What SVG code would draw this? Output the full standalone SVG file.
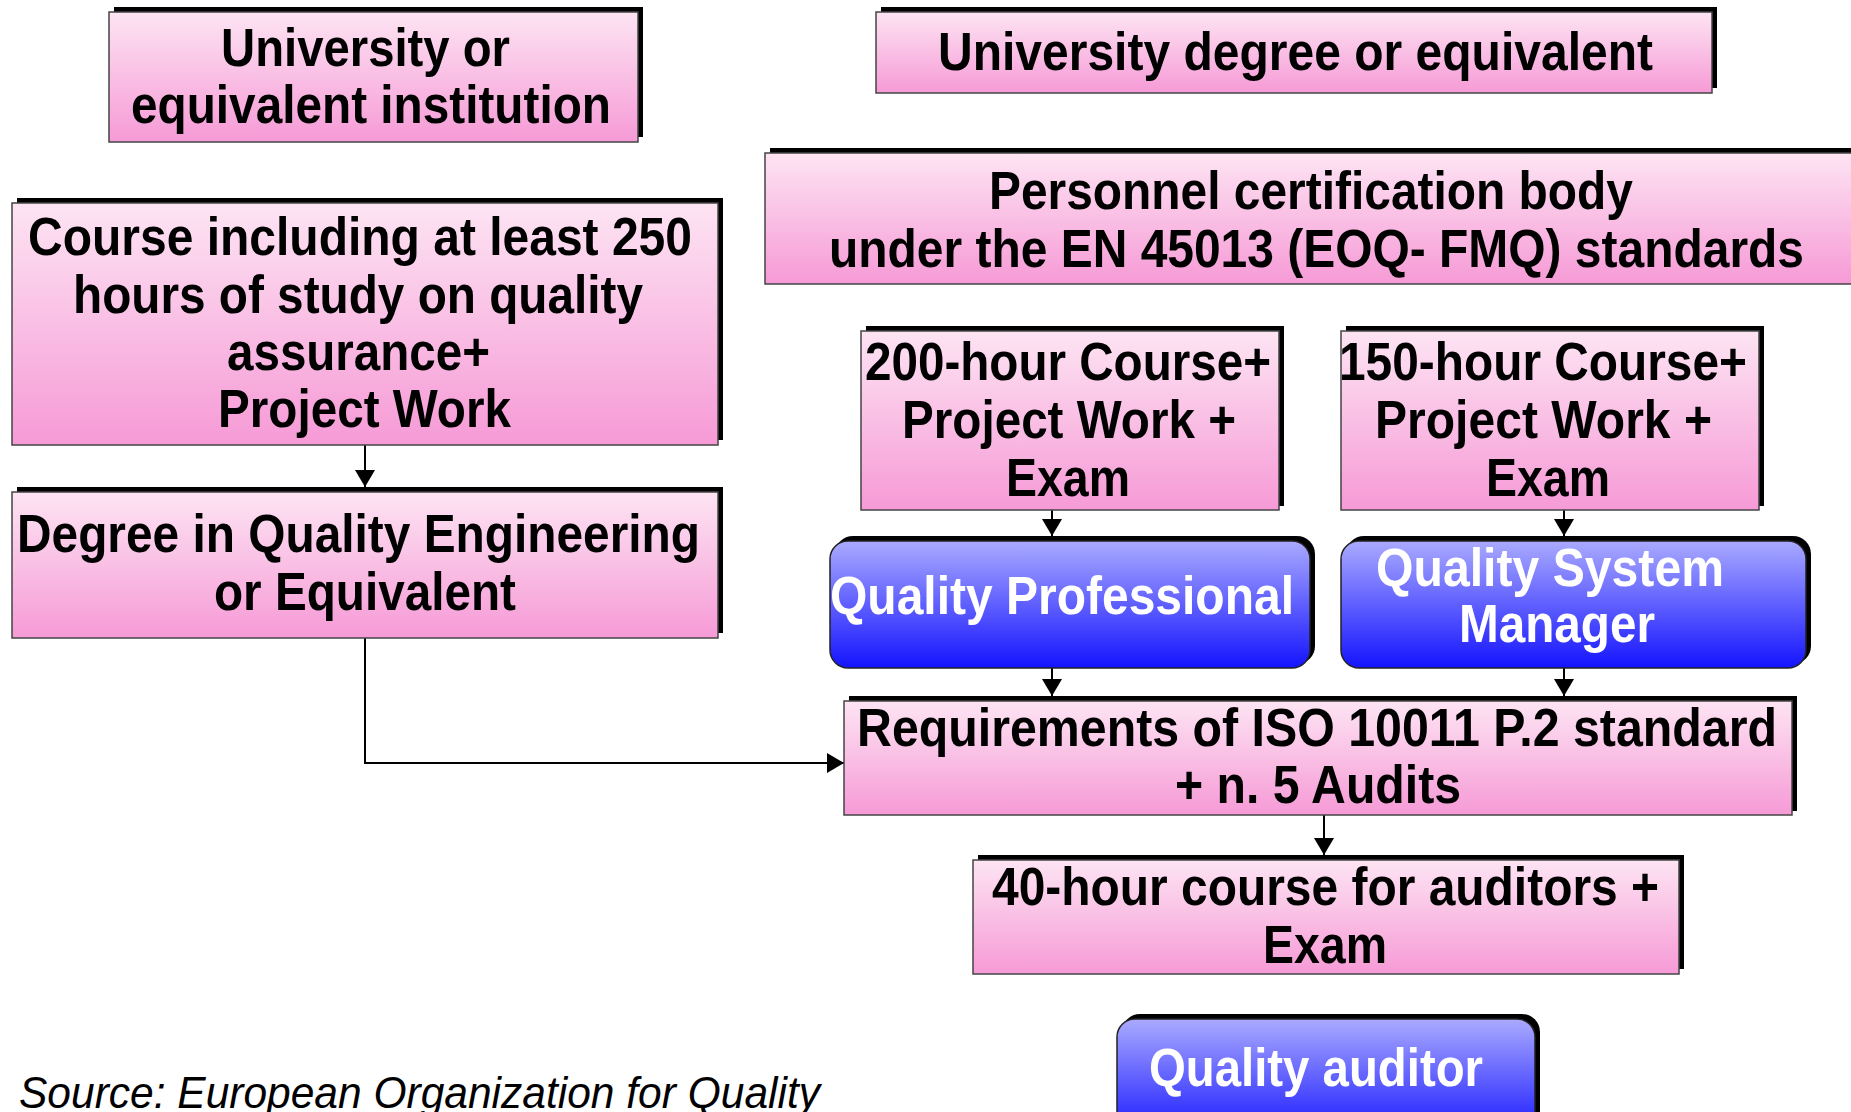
<svg xmlns="http://www.w3.org/2000/svg" width="1851" height="1112" viewBox="0 0 1851 1112">
<defs>
<linearGradient id="pink" x1="0" y1="0" x2="0" y2="1">
<stop offset="0" stop-color="#fde4f3"/>
<stop offset="1" stop-color="#f69ad6"/>
</linearGradient>
<linearGradient id="blue" x1="0" y1="0" x2="0" y2="1">
<stop offset="0" stop-color="#aaaaff"/>
<stop offset="1" stop-color="#1414ff"/>
</linearGradient>
<marker id="arr" viewBox="0 0 10 10" refX="10" refY="5" markerUnits="userSpaceOnUse" markerWidth="17" markerHeight="20" preserveAspectRatio="none" orient="auto">
<path d="M0,0 L10,5 L0,10 z" fill="#000"/>
</marker>
<style>
.sh{fill:#000}
.pk{fill:url(#pink);stroke:#444;stroke-width:1.5}
.bl{fill:url(#blue);stroke:#222;stroke-width:1.5}
.t{font-family:"Liberation Sans",Arial,sans-serif;font-weight:bold;font-size:54px;fill:#000;text-anchor:middle}
.w{fill:#fff}
.src{font-family:"Liberation Sans",Arial,sans-serif;font-style:italic;font-size:45px;fill:#000}
.c{fill:none;stroke:#000;stroke-width:2}
</style>
</defs>

<g id="connectors">
<path class="c" d="M365,445 L365,487" marker-end="url(#arr)"/>
<path class="c" d="M365,637 L365,763 L844,763" marker-end="url(#arr)"/>
<path class="c" d="M1052,510 L1052,536" marker-end="url(#arr)"/>
<path class="c" d="M1564,510 L1564,536" marker-end="url(#arr)"/>
<path class="c" d="M1052,668 L1052,696" marker-end="url(#arr)"/>
<path class="c" d="M1564,668 L1564,696" marker-end="url(#arr)"/>
<path class="c" d="M1324,815 L1324,855" marker-end="url(#arr)"/>
</g>

<g id="univ-institution">
<rect class="sh" x="114" y="7" width="529" height="130"/>
<rect class="pk" x="109" y="12" width="529" height="130"/>
<text class="t" x="365.5" y="66" textLength="289" lengthAdjust="spacingAndGlyphs">University or</text>
<text class="t" x="371" y="123" textLength="480" lengthAdjust="spacingAndGlyphs">equivalent institution</text>
</g>

<g id="univ-degree">
<rect class="sh" x="881" y="7" width="836" height="81"/>
<rect class="pk" x="876" y="12" width="836" height="81"/>
<text class="t" x="1295.5" y="70" textLength="715" lengthAdjust="spacingAndGlyphs">University degree or equivalent</text>
</g>

<g id="cert-body">
<rect class="sh" x="770" y="148" width="1096" height="131"/>
<rect class="pk" x="765" y="153" width="1096" height="131"/>
<text class="t" x="1311" y="209" textLength="644" lengthAdjust="spacingAndGlyphs">Personnel certification body</text>
<text class="t" x="1316.5" y="267" textLength="975" lengthAdjust="spacingAndGlyphs">under the EN 45013 (EOQ- FMQ) standards</text>
</g>

<g id="course-250">
<rect class="sh" x="17" y="198" width="706" height="242"/>
<rect class="pk" x="12" y="203" width="706" height="242"/>
<text class="t" x="360" y="255" textLength="664" lengthAdjust="spacingAndGlyphs">Course including at least 250</text>
<text class="t" x="358" y="313" textLength="570" lengthAdjust="spacingAndGlyphs">hours of study on quality</text>
<text class="t" x="358.5" y="370" textLength="263" lengthAdjust="spacingAndGlyphs">assurance+</text>
<text class="t" x="364.5" y="427" textLength="293" lengthAdjust="spacingAndGlyphs">Project Work</text>
</g>

<g id="degree-qe">
<rect class="sh" x="17" y="487" width="706" height="146"/>
<rect class="pk" x="12" y="492" width="706" height="146"/>
<text class="t" x="358.5" y="552" textLength="683" lengthAdjust="spacingAndGlyphs">Degree in Quality Engineering</text>
<text class="t" x="365" y="610" textLength="302" lengthAdjust="spacingAndGlyphs">or Equivalent</text>
</g>

<g id="course-200">
<rect class="sh" x="866" y="326" width="418" height="180"/>
<rect class="pk" x="861" y="331" width="418" height="179"/>
<text class="t" x="1068" y="380" textLength="406" lengthAdjust="spacingAndGlyphs">200-hour Course+</text>
<text class="t" x="1069" y="438" textLength="334" lengthAdjust="spacingAndGlyphs">Project Work +</text>
<text class="t" x="1068" y="496" textLength="124" lengthAdjust="spacingAndGlyphs">Exam</text>
</g>

<g id="course-150">
<rect class="sh" x="1346" y="326" width="418" height="180"/>
<rect class="pk" x="1341" y="331" width="418" height="179"/>
<text class="t" x="1543" y="380" textLength="408" lengthAdjust="spacingAndGlyphs">150-hour Course+</text>
<text class="t" x="1543.5" y="438" textLength="337" lengthAdjust="spacingAndGlyphs">Project Work +</text>
<text class="t" x="1548" y="496" textLength="124" lengthAdjust="spacingAndGlyphs">Exam</text>
</g>

<g id="quality-professional">
<rect class="sh" x="835" y="536" width="480" height="128" rx="18"/>
<rect class="bl" x="830" y="541" width="480" height="127" rx="18"/>
<text class="t w" x="1062" y="614" textLength="464" lengthAdjust="spacingAndGlyphs">Quality Professional</text>
</g>

<g id="quality-system-manager">
<rect class="sh" x="1346" y="536" width="465" height="128" rx="18"/>
<rect class="bl" x="1341" y="541" width="465" height="127" rx="18"/>
<text class="t w" x="1550" y="586" textLength="348" lengthAdjust="spacingAndGlyphs">Quality System</text>
<text class="t w" x="1557" y="642" textLength="196" lengthAdjust="spacingAndGlyphs">Manager</text>
</g>

<g id="iso-requirements">
<rect class="sh" x="849" y="696" width="948" height="115"/>
<rect class="pk" x="844" y="701" width="948" height="114"/>
<text class="t" x="1317" y="746" textLength="920" lengthAdjust="spacingAndGlyphs">Requirements of ISO 10011 P.2 standard</text>
<text class="t" x="1318" y="803" textLength="286" lengthAdjust="spacingAndGlyphs">+ n. 5 Audits</text>
</g>

<g id="course-40">
<rect class="sh" x="978" y="855" width="706" height="114"/>
<rect class="pk" x="973" y="860" width="706" height="114"/>
<text class="t" x="1325.5" y="905" textLength="667" lengthAdjust="spacingAndGlyphs">40-hour course for auditors +</text>
<text class="t" x="1325" y="963" textLength="124" lengthAdjust="spacingAndGlyphs">Exam</text>
</g>

<g id="quality-auditor">
<rect class="sh" x="1122" y="1014" width="418" height="120" rx="18"/>
<rect class="bl" x="1117" y="1019" width="418" height="120" rx="18"/>
<text class="t w" x="1316" y="1086" textLength="334" lengthAdjust="spacingAndGlyphs">Quality auditor</text>
</g>

<text class="src" x="19" y="1108" textLength="801" lengthAdjust="spacingAndGlyphs">Source: European Organization for Quality</text>
</svg>
